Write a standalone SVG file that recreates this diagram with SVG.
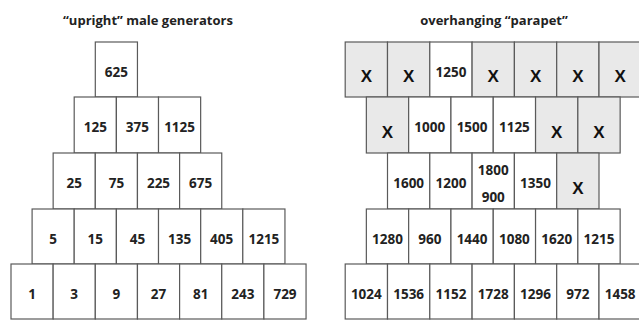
<svg xmlns="http://www.w3.org/2000/svg" width="639" height="323" viewBox="0 0 639 323">
  <style>
    .bg { fill: #ffffff; }
    .cell { fill: #ffffff; stroke: #5a5a5a; stroke-width: 1.2; }
    .cell.x { fill: #e9e9e9; }
    .num { font-family: "Open Sans", "Liberation Sans", sans-serif; font-weight: bold; font-size: 13.5px; fill: #222222; text-anchor: middle; }
    .mark { font-family: "Liberation Sans", "Open Sans", sans-serif; font-weight: bold; font-size: 17px; fill: #111111; text-anchor: middle; }
    .title { font-family: "Open Sans", "Liberation Sans", sans-serif; font-weight: bold; font-size: 13px; fill: #222222; text-anchor: middle; }
  </style>
  <rect class="bg" x="0" y="0" width="639" height="323"/>

  <!-- titles -->
  <text class="title" x="148" y="25">“upright” male generators</text>
  <text class="title" x="494" y="25">overhanging “parapet”</text>

  <!-- left pyramid: rows of 42.15 wide cells -->
  <g id="upright">
    <!-- row 1 -->
    <g id="u-625"><rect class="cell" x="95.3" y="42" width="42.15" height="55"/><text class="num" x="116.4" y="77">625</text></g>
    <!-- row 2 -->
    <g id="u-125"><rect class="cell" x="74.2" y="97" width="42.15" height="56"/><text class="num" x="95.3" y="132">125</text></g>
    <g id="u-375"><rect class="cell" x="116.4" y="97" width="42.15" height="56"/><text class="num" x="137.4" y="132">375</text></g>
    <g id="u-1125"><rect class="cell" x="158.5" y="97" width="42.15" height="56"/><text class="num" x="179.6" y="132">1125</text></g>
    <!-- row 3 -->
    <g id="u-25"><rect class="cell" x="53.15" y="153" width="42.15" height="56"/><text class="num" x="74.2" y="188">25</text></g>
    <g id="u-75"><rect class="cell" x="95.3" y="153" width="42.15" height="56"/><text class="num" x="116.4" y="188">75</text></g>
    <g id="u-225"><rect class="cell" x="137.45" y="153" width="42.15" height="56"/><text class="num" x="158.5" y="188">225</text></g>
    <g id="u-675"><rect class="cell" x="179.6" y="153" width="42.15" height="56"/><text class="num" x="200.7" y="188">675</text></g>
    <!-- row 4 -->
    <g id="u-5"><rect class="cell" x="32.1" y="209" width="42.15" height="55"/><text class="num" x="53.15" y="244">5</text></g>
    <g id="u-15"><rect class="cell" x="74.2" y="209" width="42.15" height="55"/><text class="num" x="95.3" y="244">15</text></g>
    <g id="u-45"><rect class="cell" x="116.4" y="209" width="42.15" height="55"/><text class="num" x="137.4" y="244">45</text></g>
    <g id="u-135"><rect class="cell" x="158.5" y="209" width="42.15" height="55"/><text class="num" x="179.6" y="244">135</text></g>
    <g id="u-405"><rect class="cell" x="200.7" y="209" width="42.15" height="55"/><text class="num" x="221.7" y="244">405</text></g>
    <g id="u-1215"><rect class="cell" x="242.8" y="209" width="42.15" height="55"/><text class="num" x="263.9" y="244">1215</text></g>
    <!-- row 5 -->
    <g id="u-1"><rect class="cell" x="11" y="264" width="42.15" height="55"/><text class="num" x="32.1" y="299">1</text></g>
    <g id="u-3"><rect class="cell" x="53.15" y="264" width="42.15" height="55"/><text class="num" x="74.2" y="299">3</text></g>
    <g id="u-9"><rect class="cell" x="95.3" y="264" width="42.15" height="55"/><text class="num" x="116.4" y="299">9</text></g>
    <g id="u-27"><rect class="cell" x="137.45" y="264" width="42.15" height="55"/><text class="num" x="158.5" y="299">27</text></g>
    <g id="u-81"><rect class="cell" x="179.6" y="264" width="42.15" height="55"/><text class="num" x="200.7" y="299">81</text></g>
    <g id="u-243"><rect class="cell" x="221.75" y="264" width="42.15" height="55"/><text class="num" x="242.8" y="299">243</text></g>
    <g id="u-729"><rect class="cell" x="263.9" y="264" width="42.15" height="55"/><text class="num" x="285" y="299">729</text></g>
  </g>

  <!-- right pyramid: rows of 42.3 wide cells -->
  <g id="parapet">
    <!-- row 1 -->
    <g id="p-1-1"><rect class="cell x" x="345.2" y="42" width="42.3" height="55"/><text class="mark" x="366.35" y="82">X</text></g>
    <g id="p-1-2"><rect class="cell x" x="387.5" y="42" width="42.3" height="55"/><text class="mark" x="408.65" y="82">X</text></g>
    <g id="p-1250"><rect class="cell" x="429.8" y="42" width="42.3" height="55"/><text class="num" x="450.95" y="77">1250</text></g>
    <g id="p-1-4"><rect class="cell x" x="472.1" y="42" width="42.3" height="55"/><text class="mark" x="493.25" y="82">X</text></g>
    <g id="p-1-5"><rect class="cell x" x="514.4" y="42" width="42.3" height="55"/><text class="mark" x="535.55" y="82">X</text></g>
    <g id="p-1-6"><rect class="cell x" x="556.7" y="42" width="42.3" height="55"/><text class="mark" x="577.85" y="82">X</text></g>
    <g id="p-1-7"><rect class="cell x" x="599" y="42" width="42.3" height="55"/><text class="mark" x="620.15" y="82">X</text></g>
    <!-- row 2 -->
    <g id="p-2-1"><rect class="cell x" x="366.35" y="97" width="42.3" height="56"/><text class="mark" x="387.5" y="138">X</text></g>
    <g id="p-1000"><rect class="cell" x="408.65" y="97" width="42.3" height="56"/><text class="num" x="429.8" y="132">1000</text></g>
    <g id="p-1500"><rect class="cell" x="450.95" y="97" width="42.3" height="56"/><text class="num" x="472.1" y="132">1500</text></g>
    <g id="p-1125"><rect class="cell" x="493.25" y="97" width="42.3" height="56"/><text class="num" x="514.4" y="132">1125</text></g>
    <g id="p-2-5"><rect class="cell x" x="535.55" y="97" width="42.3" height="56"/><text class="mark" x="556.7" y="138">X</text></g>
    <g id="p-2-6"><rect class="cell x" x="577.85" y="97" width="42.3" height="56"/><text class="mark" x="599" y="138">X</text></g>
    <!-- row 3 -->
    <g id="p-1600"><rect class="cell" x="387.5" y="153" width="42.3" height="56"/><text class="num" x="408.65" y="188">1600</text></g>
    <g id="p-1200"><rect class="cell" x="429.8" y="153" width="42.3" height="56"/><text class="num" x="450.95" y="188">1200</text></g>
    <g id="p-1800-900"><rect class="cell" x="472.1" y="153" width="42.3" height="56"/><text class="num" x="493.25" y="175">1800</text><text class="num" x="493.25" y="202">900</text></g>
    <g id="p-1350"><rect class="cell" x="514.4" y="153" width="42.3" height="56"/><text class="num" x="535.55" y="188">1350</text></g>
    <g id="p-3-5"><rect class="cell x" x="556.7" y="153" width="42.3" height="56"/><text class="mark" x="577.85" y="194">X</text></g>
    <!-- row 4 -->
    <g id="p-1280"><rect class="cell" x="366.35" y="209" width="42.3" height="55"/><text class="num" x="387.5" y="244">1280</text></g>
    <g id="p-960"><rect class="cell" x="408.65" y="209" width="42.3" height="55"/><text class="num" x="429.8" y="244">960</text></g>
    <g id="p-1440"><rect class="cell" x="450.95" y="209" width="42.3" height="55"/><text class="num" x="472.1" y="244">1440</text></g>
    <g id="p-1080"><rect class="cell" x="493.25" y="209" width="42.3" height="55"/><text class="num" x="514.4" y="244">1080</text></g>
    <g id="p-1620"><rect class="cell" x="535.55" y="209" width="42.3" height="55"/><text class="num" x="556.7" y="244">1620</text></g>
    <g id="p-1215"><rect class="cell" x="577.85" y="209" width="42.3" height="55"/><text class="num" x="599" y="244">1215</text></g>
    <!-- row 5 -->
    <g id="p-1024"><rect class="cell" x="345.2" y="264" width="42.3" height="55"/><text class="num" x="366.35" y="299">1024</text></g>
    <g id="p-1536"><rect class="cell" x="387.5" y="264" width="42.3" height="55"/><text class="num" x="408.65" y="299">1536</text></g>
    <g id="p-1152"><rect class="cell" x="429.8" y="264" width="42.3" height="55"/><text class="num" x="450.95" y="299">1152</text></g>
    <g id="p-1728"><rect class="cell" x="472.1" y="264" width="42.3" height="55"/><text class="num" x="493.25" y="299">1728</text></g>
    <g id="p-1296"><rect class="cell" x="514.4" y="264" width="42.3" height="55"/><text class="num" x="535.55" y="299">1296</text></g>
    <g id="p-972"><rect class="cell" x="556.7" y="264" width="42.3" height="55"/><text class="num" x="577.85" y="299">972</text></g>
    <g id="p-1458"><rect class="cell" x="599" y="264" width="42.3" height="55"/><text class="num" x="620.15" y="299">1458</text></g>
  </g>
</svg>
